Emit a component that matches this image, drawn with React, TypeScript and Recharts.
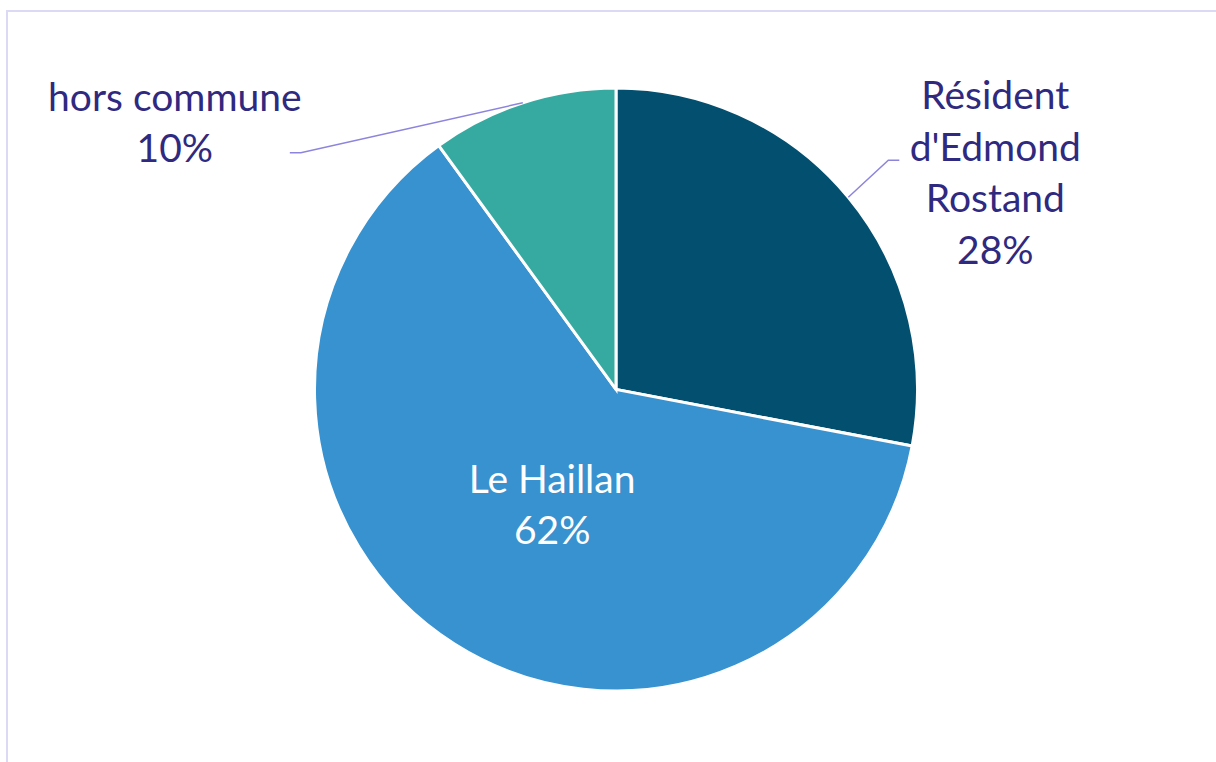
import { PieChart, Pie, Cell } from 'recharts';

const categories = ["Résident d'Edmond Rostand", 'Le Haillan', 'hors commune'];
const shares = [28, 62, 10];
const labelLines = [['Résident', "d'Edmond", 'Rostand'], ['Le Haillan'], ['hors commune']];

const colors = ['#034f70', '#3792cf', '#36aaa1'];

const data = categories.map((name, i) => ({ name, value: shares[i] }));

const RAD = Math.PI / 180;
const LINE_H = 51.5;

// outer labels get a leader line, the big slice is labelled inside
const renderLabel = (props: any) => {
  const { cx, cy, midAngle, outerRadius, index, value } = props;
  const cos = Math.cos(-midAngle * RAD);
  const sin = Math.sin(-midAngle * RAD);
  const lines = [...labelLines[index], `${value}%`];

  if (index === 1) {
    const r = outerRadius * 0.42;
    const x = cx + r * cos + 4;
    const y = cy + r * sin + 7;
    const top = y - ((lines.length - 1) * LINE_H) / 2;
    return (
      <text x={x} y={top} fill="#fff" textAnchor="middle" dominantBaseline="central" style={styles.label}>
        {lines.map((l, i) => (
          <tspan key={i} x={x} y={top + i * LINE_H}>{l}</tspan>
        ))}
      </text>
    );
  }

  const sx = cx + outerRadius * cos;
  const sy = cy + outerRadius * sin;
  const right = cos > 0;
  const ex = right ? sx + 40 : sx - 222;
  const ey = right ? sy - 37 : sy + 50;
  const hx = right ? ex + 11 : ex - 11;
  const tx = right ? hx + 96 : hx - 115;
  const ty = right ? ey - 66 : ey - 57;
  return (
    <g>
      <polyline points={`${sx},${sy} ${ex},${ey} ${hx},${ey}`} fill="none" stroke="#8d84de" strokeWidth={1.5} />
      <text x={tx} y={ty} fill="#2f2a7f" textAnchor="middle" dominantBaseline="central" style={styles.label}>
        {lines.map((l, i) => (
          <tspan key={i} x={tx} y={ty + i * LINE_H}>{l}</tspan>
        ))}
      </text>
    </g>
  );
};

const App = () => (
  <div style={styles.page}>
    <div style={styles.frame} />
    <PieChart width={1216} height={762} margin={{ top: 0, right: 0, bottom: 0, left: 0 }} style={styles.chart}>
      <Pie
        data={data}
        dataKey="value"
        nameKey="name"
        cx={616}
        cy={389.5}
        outerRadius={301.5}
        startAngle={90}
        endAngle={-270}
        stroke="#fff"
        strokeWidth={3}
        label={renderLabel}
        labelLine={false}
        isAnimationActive={false}
      >
        {data.map((_, i) => (
          <Cell key={i} fill={colors[i]} />
        ))}
      </Pie>
    </PieChart>
  </div>
);

const styles: any = {
  page: { position: 'absolute', left: 0, top: 0, width: 1216, height: 762, overflow: 'hidden', background: '#fff' },
  frame: { position: 'absolute', left: 6, top: 10, width: 1300, height: 800, border: '2px solid #dcd9f5' },
  chart: { position: 'absolute', left: 0, top: 0 },
  label: { fontFamily: 'Lato, sans-serif', fontSize: 39 },
};

export default App;
